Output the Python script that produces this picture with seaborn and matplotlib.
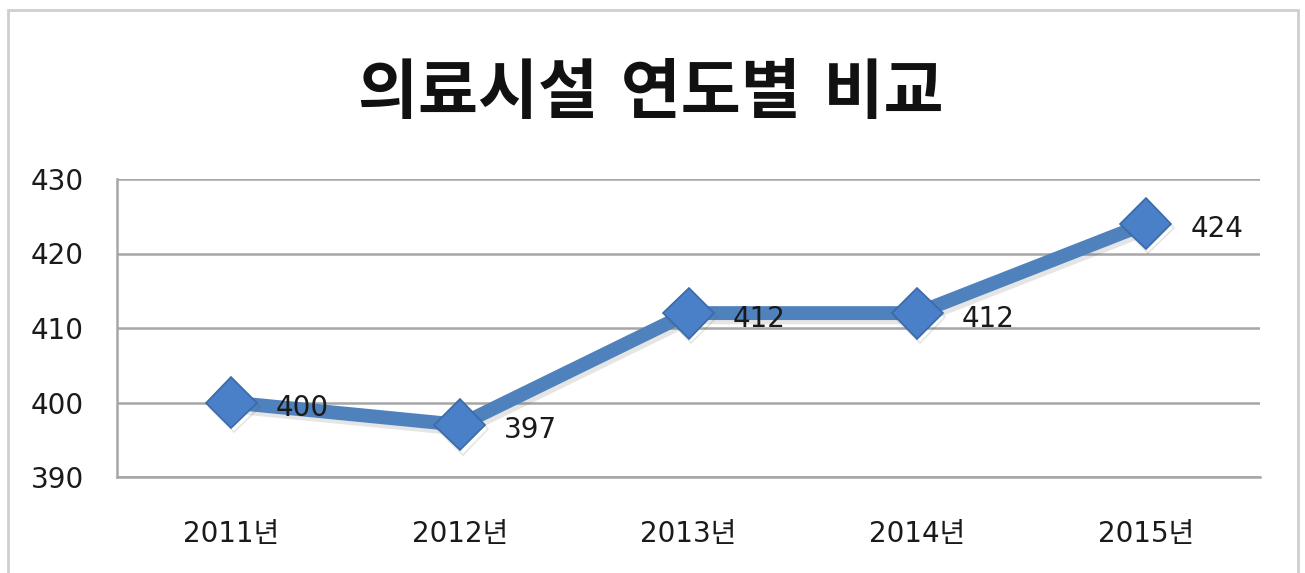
import matplotlib
matplotlib.use("Agg")
import matplotlib.pyplot as plt
import matplotlib.patheffects as pe
import seaborn as sns
import pandas as pd

years = ["2011년", "2012년", "2013년", "2014년", "2015년"]
values = [400, 397, 412, 412, 424]
yticks = [390, 400, 410, 420, 430]
title = "의료시설 연도별 비교"

sns.set_theme(style="white")
plt.rcParams["font.family"] = ["DejaVu Sans", "Noto Sans CJK KR"]

df = pd.DataFrame({"year": years, "value": values})

fig = plt.figure(figsize=(13.05, 5.73), dpi=100)
ax = fig.add_axes([117/1305, 1-477/573, (1260-117)/1305, (477-179)/573])

line_color = "#4F81BD"
sns.lineplot(data=df, x="year", y="value", sort=False, ax=ax,
             color=line_color, linewidth=10, marker="D", markersize=26,
             markerfacecolor="#4A80C8", markeredgecolor="#3A6AA8", markeredgewidth=1.2,
             path_effects=[pe.SimpleLineShadow(offset=(2, -3), alpha=0.15, shadow_color="#555555"), pe.Normal()])

ax.set_xlim(-0.5, len(years) - 0.5)
ax.set_ylim(390, 430)
ax.set_yticks(yticks)
ax.set_yticklabels([str(t) for t in yticks])
ax.set_xlabel("")
ax.set_ylabel("")
ax.grid(False)
for y in yticks:
    ax.axhline(y, color="#A6A6A6", linewidth=1.8, zorder=0)

for s in ["top", "right"]:
    ax.spines[s].set_visible(False)
ax.spines["left"].set_color("#A6A6A6")
ax.spines["left"].set_linewidth(1.8)
ax.spines["bottom"].set_color("#A6A6A6")
ax.spines["bottom"].set_linewidth(1.8)
ax.tick_params(axis="both", length=0, labelsize=20, colors="#1a1a1a")
ax.tick_params(axis="x", pad=31)
ax.tick_params(axis="y", pad=24)

for i, v in enumerate(values):
    ax.annotate(str(v), (i, v), xytext=(32, -4), textcoords="offset points",
                ha="left", va="center", fontsize=20, color="#1a1a1a", zorder=5)

fig.text(0.499, 1-95/573, title, ha="center", va="center", fontsize=47,
         fontweight="bold", color="#111111")

# chart border
border = plt.Rectangle((8/1305, -0.05), (1298-8)/1305, 1.05 - 10/573,
                       transform=fig.transFigure, fill=False,
                       edgecolor="#CFCFCF", linewidth=2)
fig.add_artist(border)

fig.savefig("out.png", dpi=100)
